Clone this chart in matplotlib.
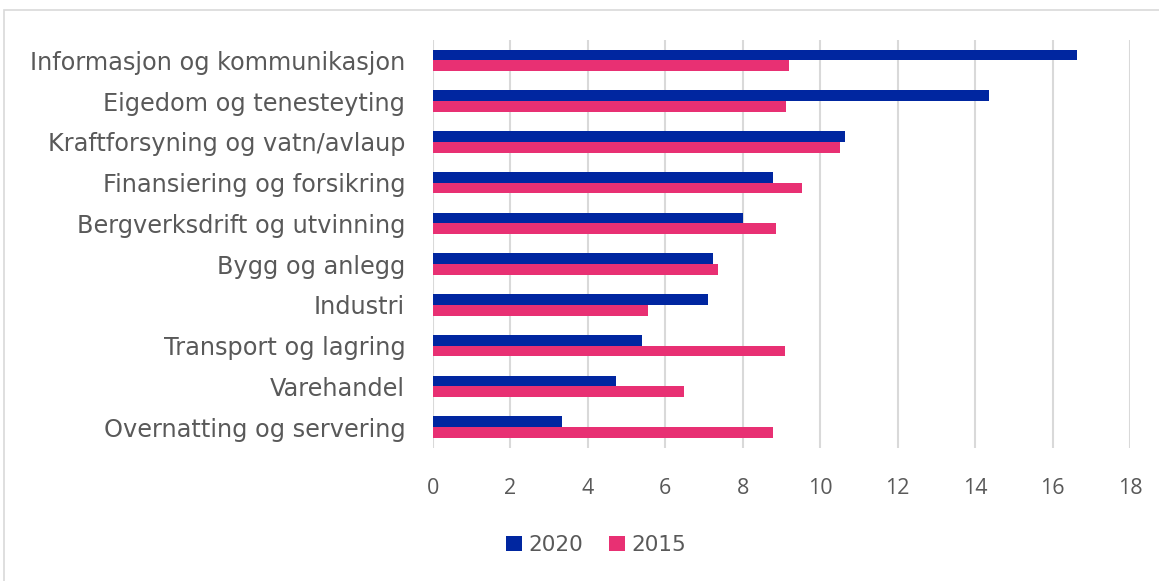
import matplotlib
matplotlib.use("Agg")
import matplotlib.pyplot as plt
from matplotlib.patches import Rectangle
import numpy as np

categories = [
    "Informasjon og kommunikasjon",
    "Eigedom og tenesteyting",
    "Kraftforsyning og vatn/avlaup",
    "Finansiering og forsikring",
    "Bergverksdrift og utvinning",
    "Bygg og anlegg",
    "Industri",
    "Transport og lagring",
    "Varehandel",
    "Overnatting og servering",
]
values_2020 = [16.62, 14.36, 10.65, 8.78, 8.01, 7.23, 7.11, 5.41, 4.72, 3.34]
values_2015 = [9.20, 9.11, 10.51, 9.54, 8.85, 7.37, 5.54, 9.10, 6.47, 8.78]
xticks = [0, 2, 4, 6, 8, 10, 12, 14, 16, 18]

plt.rcParams['font.family'] = ['Open Sans', 'DejaVu Sans']
text_color = "#595959"

fig = plt.figure(figsize=(11.59, 5.81), dpi=100)
ax = fig.add_axes([433/1159, 1 - 447.5/581, (1130-433)/1159, (447.5-40)/581])

y = np.arange(len(categories))
h = 0.265
ax.barh(y - h/2, values_2020, height=h, color="#0026A0", label="2020", zorder=3)
ax.barh(y + h/2, values_2015, height=h, color="#E83073", label="2015", zorder=3)

ax.set_ylim(len(categories) - 0.5, -0.5)
ax.set_xlim(0, 18)
ax.set_xticks(xticks)
ax.set_xticklabels([str(t) for t in xticks])
ax.set_yticks(y)
ax.set_yticklabels(categories, family=['DejaVu Sans'], fontsize=17.3)
ax.tick_params(axis='both', length=0, colors=text_color)
ax.tick_params(axis='x', labelsize=15.5, pad=22)
ax.tick_params(axis='y', pad=20)
ax.grid(axis='x', color="#d9d9d9", linewidth=1.5, zorder=0)
for s in ax.spines.values():
    s.set_visible(False)

leg = fig.legend(loc='center', bbox_to_anchor=(596/1159, 1 - 545/581), ncol=2,
                 frameon=False, prop={'family': 'DejaVu Sans', 'size': 15.5},
                 handlelength=0.75, handleheight=0.75,
                 handletextpad=0.3, columnspacing=1.2)
for t in leg.get_texts():
    t.set_color(text_color)

fig.patches.append(Rectangle((4/1159, -0.1), 1.2, 1 - 10/581 + 0.1, transform=fig.transFigure,
                             fill=False, edgecolor="#d9d9d9", linewidth=1.2))

fig.savefig("out.png", dpi=100)
